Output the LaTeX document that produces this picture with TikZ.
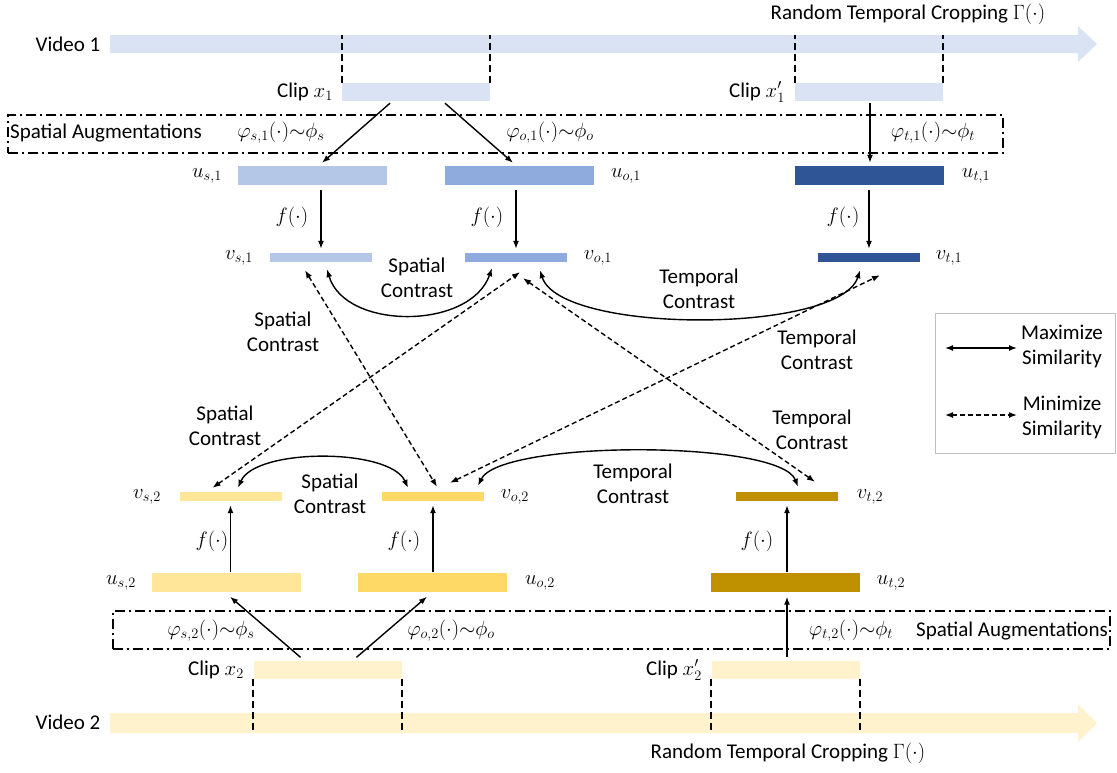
\documentclass[tikz,border=0pt]{standalone}
\usepackage{fontspec}
\setmainfont{Carlito}
\usetikzlibrary{arrows.meta,calc}
\definecolor{vone}{HTML}{DAE3F3}
\definecolor{sone}{HTML}{B4C7E7}
\definecolor{oone}{HTML}{8FAADC}
\definecolor{tone}{HTML}{2F5597}
\definecolor{vtwo}{HTML}{FFF2CC}
\definecolor{stwo}{HTML}{FFE699}
\definecolor{otwo}{HTML}{FFD966}
\definecolor{ttwo}{HTML}{BF9000}
\begin{document}
\begin{tikzpicture}[x=1pt,y=-1pt,
 txt/.style={font=\fontsize{21}{25}\selectfont, align=center, inner sep=0pt},
 ubar/.style={inner sep=0pt, minimum width=149pt, minimum height=19pt},
 vbar/.style={inner sep=0pt, minimum width=102pt, minimum height=9pt},
 cbar/.style={inner sep=0pt, minimum width=148pt, minimum height=18pt},
 arr/.style={-{Latex[length=8pt,width=6pt]}, line width=1.4pt},
 sarr/.style={{Latex[length=8pt,width=6pt]}-{Latex[length=8pt,width=6pt]}, line width=1.4pt},
 darr/.style={sarr, dash pattern=on 5pt off 3pt},
 vdash/.style={line width=1.9pt, dash pattern=on 7pt off 4pt},
 augbox/.style={draw, line width=1.4pt, dash pattern=on 10pt off 4pt on 2pt off 4pt, inner sep=0pt},
]
\useasboundingbox (0,0) rectangle (1117,772);

% ---------- Video 1 ----------
\fill[vone] (110,35) -- (1078,35) -- (1078,26) -- (1097,44) -- (1078,62) -- (1078,53) -- (110,53) -- cycle;
\coordinate (v1top) at (0,35);
\node[txt] (vid1) at (68,44) {Video 1};
\node[txt] (rtc1) at (908,14) {Random Temporal Cropping $\Gamma(\cdot)$};

\node[cbar, fill=vone] (clip1) at (416,92) {};
\node[cbar, fill=vone] (clip1p) at (869,92) {};
\node[txt, anchor=east] (clip1l) at (333,92) {Clip $x_1$};
\node[txt, anchor=east] (clip1pl) at (785,92) {Clip $x_1'$};
\draw[vdash] (clip1.north west) -- (clip1.north west |- v1top);
\draw[vdash] (clip1.north east) -- (clip1.north east |- v1top);
\draw[vdash] (clip1p.north west) -- (clip1p.north west |- v1top);
\draw[vdash] (clip1p.north east) -- (clip1p.north east |- v1top);

% ---------- Spatial augmentation 1 ----------
\node[augbox, minimum width=995pt, minimum height=38pt] (aug1) at (505.5,134) {};
\node[txt, anchor=west] (aug1l) at (10,133) {Spatial Augmentations};
\node[txt] (phis1) at (281,133) {$\varphi_{s,1}(\cdot){\sim}\phi_s$};
\node[txt] (phio1) at (550,133) {$\varphi_{o,1}(\cdot){\sim}\phi_o$};
\node[txt] (phit1) at (933,133) {$\varphi_{t,1}(\cdot){\sim}\phi_t$};

% ---------- u bars 1 ----------
\node[ubar, fill=sone] (us1) at (312.5,175.5) {};
\node[ubar, fill=oone] (uo1) at (519.5,175.5) {};
\node[ubar, fill=tone] (ut1) at (869.5,175.5) {};
\node[txt] (us1l) at (207,176) {$u_{s,1}$};
\node[txt] (uo1l) at (626,176) {$u_{o,1}$};
\node[txt] (ut1l) at (976,176) {$u_{t,1}$};

\draw[arr] ($(clip1.south)+(-26,2)$) -- ($(us1.north)+(9.5,-3)$);
\draw[arr] ($(clip1.south)+(29,2)$) -- ($(uo1.north)+(-6.5,-3)$);
\draw[arr] ($(clip1p.south)+(1,2)$) -- ($(ut1.north)+(0.5,-3)$);

% ---------- v bars 1 ----------
\node[vbar, fill=sone] (vs1) at (321,257.5) {};
\node[vbar, fill=oone] (vo1) at (516,257.5) {};
\node[vbar, fill=tone] (vt1) at (869,257.5) {};
\node[txt] (vs1l) at (239,258) {$v_{s,1}$};
\node[txt] (vo1l) at (598,258) {$v_{o,1}$};
\node[txt] (vt1l) at (949,258) {$v_{t,1}$};

\node[txt] (f1) at (292,217) {$f(\cdot)$};
\node[txt] (f2) at (487,217) {$f(\cdot)$};
\node[txt] (f3) at (843,217) {$f(\cdot)$};
\draw[arr] (us1.south -| vs1.north) ++(0,5) -- ($(vs1.north)+(0,-4)$);
\draw[arr] (uo1.south -| vo1.north) ++(0,5) -- ($(vo1.north)+(0,-4)$);
\draw[arr] (ut1.south -| vt1.north) ++(0,5) -- ($(vt1.north)+(0,-4)$);

% ---------- v bars 2 ----------
\node[vbar, fill=stwo] (vs2) at (230.5,496.5) {};
\node[vbar, fill=otwo] (vo2) at (433,496.5) {};
\node[vbar, fill=ttwo] (vt2) at (787,496.5) {};
\node[txt] (vs2l) at (147,497) {$v_{s,2}$};
\node[txt] (vo2l) at (515,497) {$v_{o,2}$};
\node[txt] (vt2l) at (870,497) {$v_{t,2}$};

% ---------- u bars 2 ----------
\node[ubar, fill=stwo] (us2) at (226.5,582) {};
\node[ubar, fill=otwo] (uo2) at (432.5,582) {};
\node[ubar, fill=ttwo] (ut2) at (785.5,582) {};
\node[txt] (us2l) at (121,583) {$u_{s,2}$};
\node[txt] (uo2l) at (540,583) {$u_{o,2}$};
\node[txt] (ut2l) at (891,583) {$u_{t,2}$};

\node[txt] (f4) at (212,541) {$f(\cdot)$};
\node[txt] (f5) at (404,541) {$f(\cdot)$};
\node[txt] (f6) at (757,541) {$f(\cdot)$};
\draw[arr] (us2.north -| vs2.south) -- ($(vs2.south)+(0,4)$);
\draw[arr] (uo2.north -| vo2.south) -- ($(vo2.south)+(0,4)$);
\draw[arr] (ut2.north -| vt2.south) -- ($(vt2.south)+(0,4)$);

% ---------- Spatial augmentation 2 ----------
\node[augbox, minimum width=997pt, minimum height=38pt] (aug2) at (611.5,630) {};
\node[txt, anchor=east] (aug2l) at (1108,631) {Spatial Augmentations};
\node[txt] (phis2) at (211,631) {$\varphi_{s,2}(\cdot){\sim}\phi_s$};
\node[txt] (phio2) at (451,631) {$\varphi_{o,2}(\cdot){\sim}\phi_o$};
\node[txt] (phit2) at (851,631) {$\varphi_{t,2}(\cdot){\sim}\phi_t$};

% ---------- Clips 2 and Video 2 ----------
\node[cbar, fill=vtwo] (clip2) at (327.5,669.5) {};
\node[cbar, fill=vtwo] (clip2p) at (785.5,669.5) {};
\node[txt, anchor=east] (clip2l) at (244,670) {Clip $x_2$};
\node[txt, anchor=east] (clip2pl) at (702,670) {Clip $x_2'$};

\draw[arr] ($(clip2.north)+(-27,-3)$) -- ($(us2.south)+(3.5,5)$);
\draw[arr] ($(clip2.north)+(29,-3)$) -- ($(uo2.south)+(-5.5,5)$);
\draw[arr] ($(clip2p.north)+(1.5,-3)$) -- ($(ut2.south)+(1.5,5)$);

\fill[vtwo] (110,713) -- (1078,713) -- (1078,704) -- (1097,723) -- (1078,742) -- (1078,733) -- (110,733) -- cycle;
\coordinate (v2bot) at (0,733);
\node[txt] (vid2) at (68,722) {Video 2};
\node[txt] (rtc2) at (788,753) {Random Temporal Cropping $\Gamma(\cdot)$};
\draw[vdash] (clip2.south west) -- (clip2.south west |- v2bot);
\draw[vdash] (clip2.south east) -- (clip2.south east |- v2bot);
\draw[vdash] (clip2p.south west) -- (clip2p.south west |- v2bot);
\draw[vdash] (clip2p.south east) -- (clip2p.south east |- v2bot);

% ---------- Contrast connectors ----------
\draw[sarr] ($(vs1.south)+(6,7)$) .. controls ($(vs1.south)+(24,68)$) and ($(vo1.south)+(-46,68)$) .. ($(vo1.south)+(-24,6)$);
\draw[sarr] ($(vo1.south)+(24,8)$) .. controls ($(vo1.south)+(44,72)$) and ($(vt1.south)+(-29,72)$) .. ($(vt1.south)+(-9,8)$);
\draw[sarr] ($(vs2.north)+(7.5,-4)$) .. controls ($(vs2.north)+(25,-44)$) and ($(vo2.north)+(-43,-44)$) .. ($(vo2.north)+(-25,-4)$);
\draw[sarr] ($(vo2.north)+(45,-6)$) .. controls ($(vo2.north)+(67,-52)$) and ($(vt2.north)+(-7,-52)$) .. ($(vt2.north)+(11,-5)$);

\draw[darr] ($(vs1.south)+(-16,8)$) -- ($(vo2.north)+(4,-5)$);
\draw[darr] ($(vs2.north)+(-18,-4)$) -- ($(vo1.south)+(4,10)$);
\draw[darr] ($(vo1.south)+(7,16)$) -- ($(vt2.north)+(28,-10)$);
\draw[darr] ($(vo2.north)+(17,-9)$) -- ($(vt1.south)+(11,13)$);

\node[txt] (c1) at (417,278) {Spatial\\Contrast};
\node[txt] (c2) at (699,289) {Temporal\\Contrast};
\node[txt] (c3) at (283,332) {Spatial\\Contrast};
\node[txt] (c4) at (817,350) {Temporal\\Contrast};
\node[txt] (c5) at (225,426) {Spatial\\Contrast};
\node[txt] (c6) at (812,430) {Temporal\\Contrast};
\node[txt] (c7) at (330,494) {Spatial\\Contrast};
\node[txt] (c8) at (633,484) {Temporal\\Contrast};

% ---------- Legend ----------
\node[draw=black!25, line width=1pt, minimum width=180pt, minimum height=140pt, inner sep=0pt] (legend) at (1025,383) {};
\coordinate (l1a) at (945,348);
\coordinate (l1b) at (1017,348);
\coordinate (l2a) at (945,415);
\coordinate (l2b) at (1017,415);
\draw[sarr] (l1a) -- (l1b);
\draw[darr] (l2a) -- (l2b);
\node[txt] (lg1) at (1062,346) {Maximize\\Similarity};
\node[txt] (lg2) at (1062,417) {Minimize\\Similarity};
\end{tikzpicture}
\end{document}
